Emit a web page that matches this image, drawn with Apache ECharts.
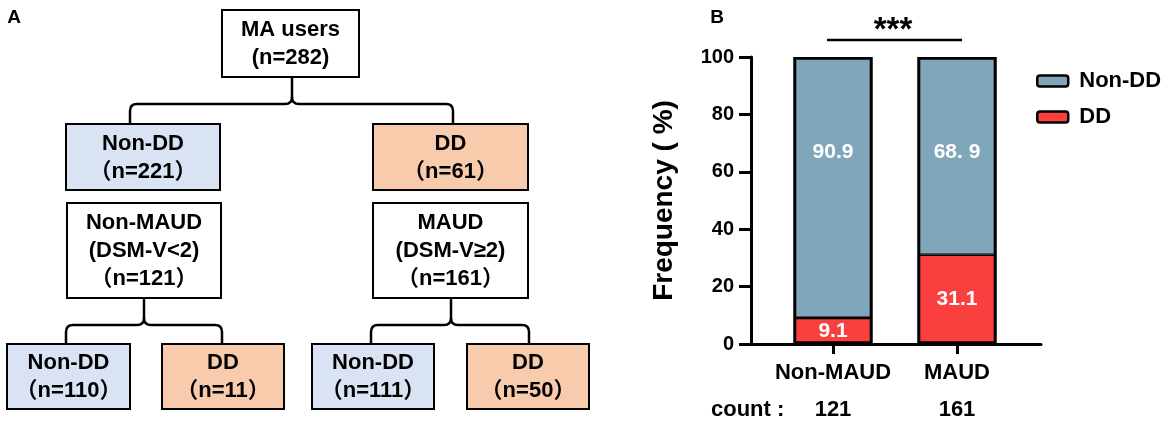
<!DOCTYPE html>
<html>
<head>
<meta charset="utf-8">
<script src="https://cdn.jsdelivr.net/npm/echarts@6/dist/echarts.min.js"></script>
<style>
html,body{margin:0;padding:0;background:#fff;}
#c{width:1169px;height:426px;}
</style>
</head>
<body>
<div id="c"></div>
<script>
// ---------- Panel B data ----------
const categories = ['Non-MAUD', 'MAUD'];
const counts = [121, 161];
const nonDDPct = [90.9, 68.9];
const ddPct = [9.1, 31.1];
const nonDDLabels = ['90.9', '68. 9'];
const ddLabels = ['9.1', '31.1'];
const seriesNames = ['Non-DD', 'DD'];
const yMin = 0, yMax = 100, yInterval = 20;
const sigText = '***';
const countTitle = 'count :';

// ---------- Panel A data ----------
const treeTitles = ['MA users', 'Non-DD', 'DD', 'Non-MAUD\n(DSM-V<2)', 'MAUD\n(DSM-V≥2)', 'Non-DD', 'DD', 'Non-DD', 'DD'];
const treeCounts = [282, 221, 61, 121, 161, 110, 11, 111, 50];
const treeKinds = ['all', 'non', 'dd', 'grp', 'grp', 'non', 'dd', 'non', 'dd'];

// ---------- Layout (positions / styles only) ----------
const boxLayout = [
  [222, 10, 137, 67],
  [66, 124, 154, 66],
  [373, 124, 155, 66],
  [67, 203, 154, 95],
  [373, 203, 155, 95],
  [7, 344, 123, 65],
  [162, 344, 122, 65],
  [312, 344, 122, 65],
  [467, 344, 122, 65]
];
const braces = [
  {cx: 292, y0: 77, yh: 104, xl: 130, xr: 453, y1: 124},
  {cx: 144, y0: 298, yh: 325, xl: 66, xr: 222, y1: 344},
  {cx: 451, y0: 298, yh: 325, xl: 371, xr: 529, y1: 344}
];
const kindFill = {all: '#ffffff', grp: '#ffffff', non: '#dae3f3', dd: '#f8cbad'};
const FONT = "'Liberation Sans', Arial, 'Noto Sans CJK SC', sans-serif";
const colNonDD = '#80a6b9';
const colDD = '#fa3f3f';

const graphics = [];
graphics.push({type: 'text', x: 14, y: 18, style: {text: 'A', font: 'bold 19px ' + FONT, fill: '#000', align: 'center', verticalAlign: 'middle'}});
graphics.push({type: 'text', x: 717, y: 18, style: {text: 'B', font: 'bold 19px ' + FONT, fill: '#000', align: 'center', verticalAlign: 'middle'}});

boxLayout.forEach((b, i) => {
  graphics.push({type: 'rect', shape: {x: b[0], y: b[1], width: b[2], height: b[3]},
    style: {fill: kindFill[treeKinds[i]], stroke: '#000', lineWidth: 2}});
  const nText = i === 0 ? '(n=' + treeCounts[i] + ')' : '（n=' + treeCounts[i] + '）';
  graphics.push({type: 'text', x: b[0] + b[2] / 2, y: b[1] + b[3] / 2 + 0.5,
    style: {text: treeTitles[i] + '\n' + nText, font: 'bold 22px ' + FONT, lineHeight: 28,
      fill: '#000', align: 'center', verticalAlign: 'middle'}});
});
const braceStyle = {stroke: '#000', lineWidth: 2.5, fill: null};
braces.forEach(br => {
  const r = 7;
  graphics.push({type: 'line', shape: {x1: br.cx, y1: br.y0, x2: br.cx, y2: br.yh - r}, style: braceStyle});
  [[br.xl, -1], [br.xr, 1]].forEach(([xe, s]) => {
    graphics.push({type: 'bezierCurve', shape: {x1: br.cx, y1: br.yh - r, cpx1: br.cx, cpy1: br.yh, x2: br.cx + s * r, y2: br.yh}, style: braceStyle});
    graphics.push({type: 'line', shape: {x1: br.cx + s * r, y1: br.yh, x2: xe - s * r, y2: br.yh}, style: braceStyle});
    graphics.push({type: 'bezierCurve', shape: {x1: xe - s * r, y1: br.yh, cpx1: xe, cpy1: br.yh, x2: xe, y2: br.yh + r}, style: braceStyle});
    graphics.push({type: 'line', shape: {x1: xe, y1: br.yh + r, x2: xe, y2: br.y1}, style: braceStyle});
  });
});

// significance bar + count title
graphics.push({type: 'line', shape: {x1: 827, y1: 40, x2: 962, y2: 40}, style: {stroke: '#000', lineWidth: 2.5}});
graphics.push({type: 'text', x: 893, y: 31, style: {text: sigText, font: 'bold 33px ' + FONT, fill: '#000', align: 'center', verticalAlign: 'middle'}});
graphics.push({type: 'text', x: 711, y: 410, style: {text: countTitle, font: 'bold 22px ' + FONT, fill: '#000', align: 'left', verticalAlign: 'middle'}});

const totals = ddPct.map((v, i) => v + nonDDPct[i]);

const chart = echarts.init(document.getElementById('c'), null, {renderer: 'canvas', width: 1169, height: 426});
const axisBlack = {color: '#000', width: 3};
chart.setOption({
  animation: false,
  backgroundColor: '#fff',
  textStyle: {fontFamily: FONT},
  grid: [
    {left: 751, top: 57, width: 290, height: 287},
    {left: 771, top: 57, width: 248, height: 287}
  ],
  xAxis: [
    {gridIndex: 0, type: 'value', min: 0, max: 1, axisLine: {show: true, lineStyle: axisBlack},
      axisTick: {show: false}, axisLabel: {show: false}, splitLine: {show: false}},
    {gridIndex: 1, type: 'category', data: categories, axisLine: {show: false},
      axisTick: {show: true, alignWithLabel: true, interval: 0, length: 10, lineStyle: axisBlack},
      axisLabel: {interval: 0, margin: 17, color: '#000', fontWeight: 'bold', fontSize: 22, fontFamily: FONT,
        formatter: (v, idx) => '{n|' + v + '}\n{c|' + counts[idx] + '}',
        rich: {n: {fontWeight: 'bold', fontSize: 22, lineHeight: 24, fontFamily: FONT, color: '#000'},
               c: {fontWeight: 'bold', fontSize: 22, lineHeight: 50, fontFamily: FONT, color: '#000'}}}}
  ],
  yAxis: [
    {gridIndex: 0, type: 'value', min: yMin, max: yMax, interval: yInterval,
      name: 'Frequency ( %)', nameLocation: 'middle', nameGap: 73, nameMoveOverlap: false,
      nameTextStyle: {fontWeight: 'bold', fontSize: 28, color: '#000', fontFamily: FONT},
      axisLine: {show: true, lineStyle: axisBlack},
      axisTick: {show: true, length: 12, lineStyle: axisBlack},
      axisLabel: {margin: 17, color: '#000', fontWeight: 'bold', fontSize: 20, fontFamily: FONT},
      splitLine: {show: false}},
    {gridIndex: 1, type: 'value', min: yMin, max: yMax, show: false, splitLine: {show: false}}
  ],
  legend: {
    data: seriesNames, left: 1031, top: 65, orient: 'vertical', itemWidth: 31, itemHeight: 11, itemGap: 14,
    itemStyle: {borderColor: '#000', borderWidth: 2.5},
    textStyle: {fontWeight: 'bold', fontSize: 22, color: '#000', fontFamily: FONT, padding: [0, 0, 0, 6]}
  },
  series: [
    {name: 'DD', type: 'bar', stack: 's', xAxisIndex: 1, yAxisIndex: 1, data: ddPct, barWidth: 79,
      itemStyle: {color: colDD, borderColor: '#000', borderWidth: 1.3},
      label: {show: true, position: 'inside', color: '#fff', fontWeight: 'bold', fontSize: 21, fontFamily: FONT,
        formatter: p => ddLabels[p.dataIndex]}},
    {name: 'Non-DD', type: 'bar', stack: 's', xAxisIndex: 1, yAxisIndex: 1, data: nonDDPct, barWidth: 79,
      itemStyle: {color: colNonDD, borderColor: '#000', borderWidth: 1.3},
      label: {show: true, position: ['50%', 95], align: 'center', verticalAlign: 'middle', color: '#fff', fontWeight: 'bold', fontSize: 21, fontFamily: FONT,
        formatter: p => nonDDLabels[p.dataIndex]}},
    {name: 'outline', type: 'bar', xAxisIndex: 1, yAxisIndex: 1, data: totals, barWidth: 79, barGap: '-100%',
      z: 3, silent: true,
      itemStyle: {color: 'rgba(0,0,0,0)', borderColor: '#000', borderWidth: 2.8}}
  ],
  graphic: graphics
});
</script>
</body>
</html>
